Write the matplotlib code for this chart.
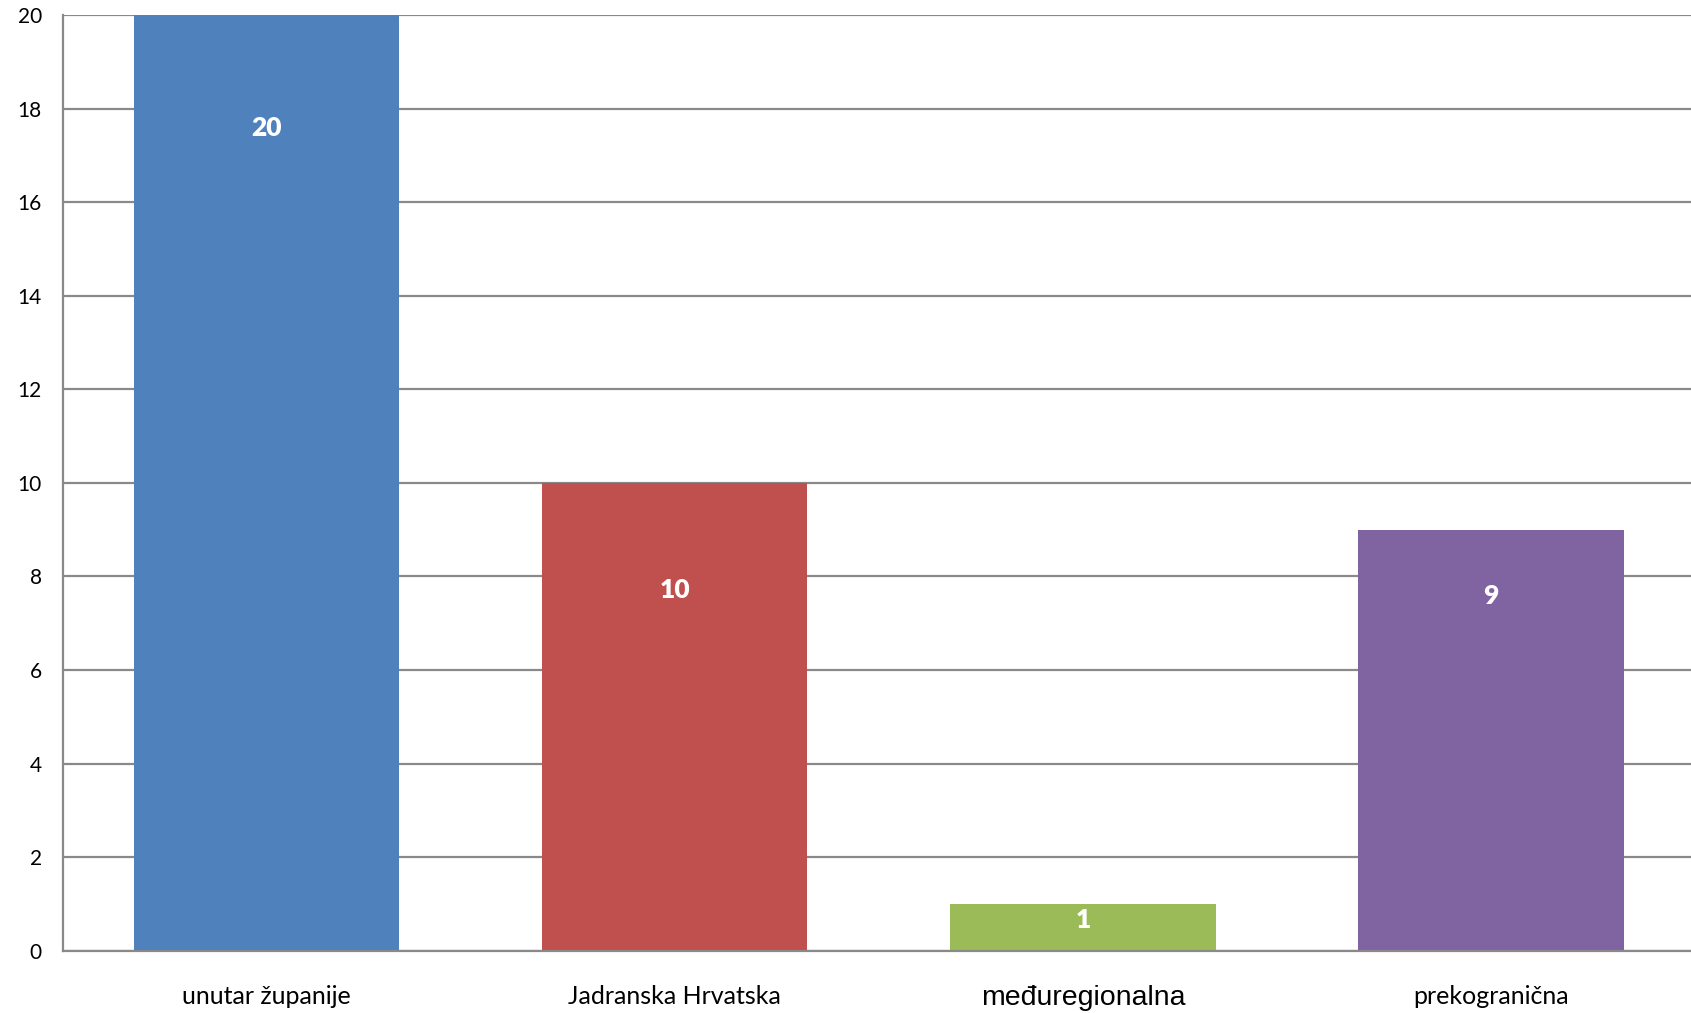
import matplotlib
matplotlib.use("Agg")
import matplotlib.pyplot as plt

categories = ["unutar županije", "Jadranska Hrvatska", "međuregionalna", "prekogranična"]
values = [20, 10, 1, 9]
colors = ["#4F81BD", "#C0504D", "#9BBB59", "#8064A2"]
label_offsets_px = [113, 107, 16, 66]
yticks = [0, 2, 4, 6, 8, 10, 12, 14, 16, 18, 20]

fig = plt.figure(figsize=(16.91, 10.13), dpi=100)
ax = fig.add_axes([62.7 / 1691, 62.3 / 1013, 1 - 62.7 / 1691, (998 - 62.3) / 1013])

x = list(range(len(categories)))
ax.bar(x, values, width=0.65, color=colors, zorder=3)
ax.set_xlim(-0.5, 3.49)
ax.set_ylim(0, 20)
ax.set_yticks(yticks)
ax.set_yticklabels([str(t) for t in yticks], fontsize=15, family="Lato")
ax.yaxis.grid(True, color="#898989", linewidth=1.6, zorder=1)
ax.set_axisbelow(True)
ax.tick_params(axis="both", length=0)
ax.tick_params(axis="y", pad=15)
ax.set_xticks(x)
ax.set_xticklabels(categories, fontsize=18, family="Lato")
ax.tick_params(axis="x", pad=25)
lbl = ax.get_xticklabels()[2]
lbl.set_family("Liberation Sans")
lbl.set_fontsize(20.5)

for s in ["top", "right"]:
    ax.spines[s].set_visible(False)
for s in ["left", "bottom"]:
    ax.spines[s].set_color("#898989")
    ax.spines[s].set_linewidth(1.6)
    ax.spines[s].set_zorder(4)

for xi, v, off in zip(x, values, label_offsets_px):
    ax.annotate(str(v), xy=(xi, v), xytext=(0, -off * 0.72), textcoords="offset points",
                ha="center", va="center", color="white", fontsize=19, fontweight="heavy",
                family="Lato", zorder=5)

fig.savefig("out.png", dpi=100)
